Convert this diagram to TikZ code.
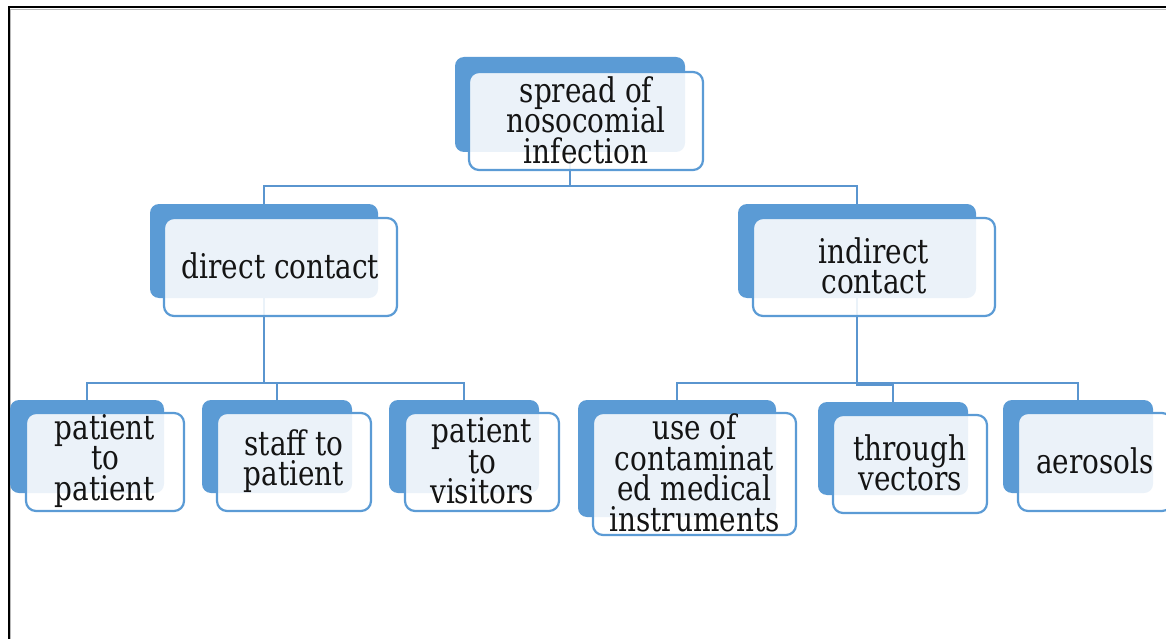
\documentclass[tikz,border=0pt]{standalone}
\usepackage{fontspec}
\setmainfont{DejaVu Serif}[FakeStretch=0.82]
\usetikzlibrary{fit}
\definecolor{sblue}{HTML}{5B9BD5}
\definecolor{lblue}{HTML}{5A95CF}
\newcommand\tightlines{\lineskiplimit=-60pt\relax}
\begin{document}
\begin{tikzpicture}[x=1pt,y=-1pt,
 back/.style={fill=sblue, draw=none, rounded corners=9pt, inner sep=0pt, outer sep=0pt},
 front/.style={draw=sblue, line width=2.2pt, fill=white, fill opacity=0.88,
   rounded corners=10pt, inner sep=0pt, outer sep=0pt},
 txt/.style={align=center, text=black!92, inner sep=0pt, yshift=1pt,
   font={\fontsize{34}{30.5}\selectfont\tightlines}},
 conn/.style={draw=lblue, line width=2.3pt},
 frameline/.style={draw=black, line width=2pt}]
\useasboundingbox (0,0) rectangle (1166,639);
\clip (0,0) rectangle (1166,639);
% frame
\draw[gray!55, line width=1pt] (10.5,640) -- (10.5,9.5) -- (1167,9.5);
\draw[frameline] (8.5,640) -- (8.5,7.5) -- (1167,7.5);
% back boxes
\node[back, fit={(455,57) (685,152)}] (topb) {};
\node[back, fit={(150,204) (378,298)}] (dcb) {};
\node[back, fit={(738,204) (976,298)}] (icb) {};
\node[back, fit={(10,400) (164,493)}] (ppb) {};
\node[back, fit={(202,400) (352,493)}] (spb) {};
\node[back, fit={(389,400) (539,493)}] (pvb) {};
\node[back, fit={(578,400) (776,517)}] (ucb) {};
\node[back, fit={(818,402) (968,495)}] (tvb) {};
\node[back, fit={(1003,400) (1153,493)}] (aeb) {};
% connectors
\draw[conn] (topb.south) -- ++(0,34) coordinate (j0);
\draw[conn] (dcb.north) |- (j0) -| (icb.north);
\draw[conn] (dcb.south) -- ++(0,85) coordinate (j1);
\draw[conn] (ppb.north) |- (j1) -| (pvb.north);
\draw[conn] (spb.north) -- (spb.north |- j1);
\draw[conn] (icb.south) -- ++(0,87) coordinate (j2) -| (tvb.north);
\draw[conn] (ucb.north) -- ++(0,-17) coordinate (h1) -- (h1 -| aeb.north) -- (aeb.north);
% front boxes
\node[front, fit={(469,72) (703,170)}] (top) {};
\node[front, fit={(164,218) (397,316)}] (dc) {};
\node[front, fit={(753,218) (995,316)}] (ic) {};
\node[front, fit={(26,413) (184,511)}] (pp) {};
\node[front, fit={(217,413) (371,511)}] (sp) {};
\node[front, fit={(405,413) (559,511)}] (pv) {};
\node[front, fit={(593,413) (796,535)}] (uc) {};
\node[front, fit={(833,415) (987,513)}] (tv) {};
\node[front, fit={(1018,413) (1172,511)}] (ae) {};
% texts
\node[txt] (topt) at (top) {spread of\\nosocomial\\infection};
\node[txt] (dct) at (dc) {direct contact};
\node[txt] (ict) at (ic) {indirect\\contact};
\node[txt] (ppt) at (pp) {patient\\to\\patient};
\node[txt] (spt) at (sp) {staff to\\patient};
\node[txt] (pvt) at (pv) {patient\\to\\visitors};
\node[txt] (uct) at (uc) {use of\\contaminat\\ed medical\\instruments};
\node[txt] (tvt) at (tv) {through\\vectors};
\node[txt] (aet) at (ae) {aerosols};
\end{tikzpicture}
\end{document}
